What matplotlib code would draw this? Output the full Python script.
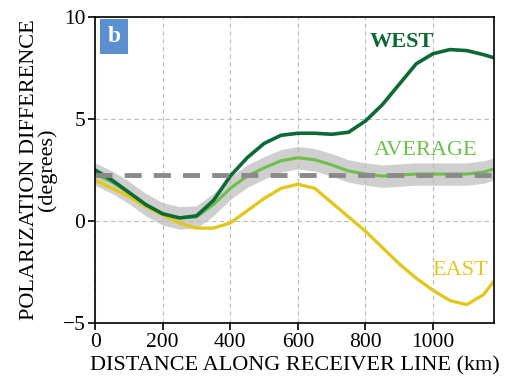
import numpy as np
import matplotlib.pyplot as plt

plt.rcParams['font.family'] = ['Liberation Serif', 'DejaVu Serif']

dist = [0, 50, 100, 150, 200, 250, 300, 350, 400, 450, 500, 550, 600, 650,
        700, 750, 800, 850, 900, 950, 1000, 1050, 1100, 1150, 1180]
west = [2.5, 2.0, 1.4, 0.8, 0.35, 0.15, 0.25, 1.0, 2.2, 3.1, 3.8, 4.2, 4.3, 4.3,
        4.25, 4.35, 4.9, 5.7, 6.7, 7.7, 8.2, 8.4, 8.35, 8.15, 8.0]
average = [2.3, 1.9, 1.4, 0.8, 0.35, 0.15, 0.2, 0.8, 1.6, 2.2, 2.6, 2.95, 3.1, 3.0,
           2.75, 2.45, 2.3, 2.2, 2.25, 2.3, 2.3, 2.3, 2.3, 2.4, 2.55]
east = [2.0, 1.6, 1.2, 0.7, 0.3, -0.1, -0.35, -0.35, -0.1, 0.5, 1.1, 1.6, 1.8, 1.6,
        0.9, 0.2, -0.5, -1.3, -2.1, -2.8, -3.4, -3.9, -4.1, -3.6, -2.95]
band = 0.55
ref_level = 2.25

x = np.array(dist)
avg = np.array(average)

fig = plt.figure(figsize=(5.06, 3.85), dpi=100)
ax = fig.add_axes([0.188, 0.161, 0.788, 0.795])

ax.fill_between(x, avg - band, avg + band, color='#cfcfcf', lw=0)
ax.plot(x, avg, color='#6cc04a', lw=2.2)
ax.plot(x, east, color='#e2c81e', lw=2.4)
ax.plot(x, west, color='#0c6a34', lw=2.6)
ax.axhline(ref_level, color='#8a8a8a', lw=3.5, ls=(0, (3.5, 2.5)))

ax.set_xlim(0, 1180)
ax.set_ylim(-5, 10)
ax.set_xticks([0, 200, 400, 600, 800, 1000])
ax.set_yticks([-5, 0, 5, 10])
ax.grid(True, color='#bbbbbb', ls=(0, (4, 3)), lw=0.8)
ax.tick_params(labelsize=15.5, direction='out', length=5, width=1.2, pad=2)
for s in ax.spines.values():
    s.set_linewidth(1.2)

ax.set_xlabel('DISTANCE ALONG RECEIVER LINE (km)', fontsize=16, labelpad=3)
ax.set_ylabel('POLARIZATION DIFFERENCE\n(degrees)', fontsize=16, labelpad=4,
              linespacing=0.9)

ax.text(907, 8.75, 'WEST', color='#0c6a34', fontsize=16, fontweight='bold',
        ha='center', va='center')
ax.text(978, 3.45, 'AVERAGE', color='#6cc04a', fontsize=16,
        ha='center', va='center')
ax.text(1081, -2.45, 'EAST', color='#e2c81e', fontsize=16,
        ha='center', va='center')
ax.text(56, 9.05, 'b', color='white', fontsize=17, fontweight='bold',
        ha='center', va='center',
        bbox=dict(boxstyle='square,pad=0.3', fc='#5b8fd0', ec='none'))

fig.savefig('out.png', dpi=100)
